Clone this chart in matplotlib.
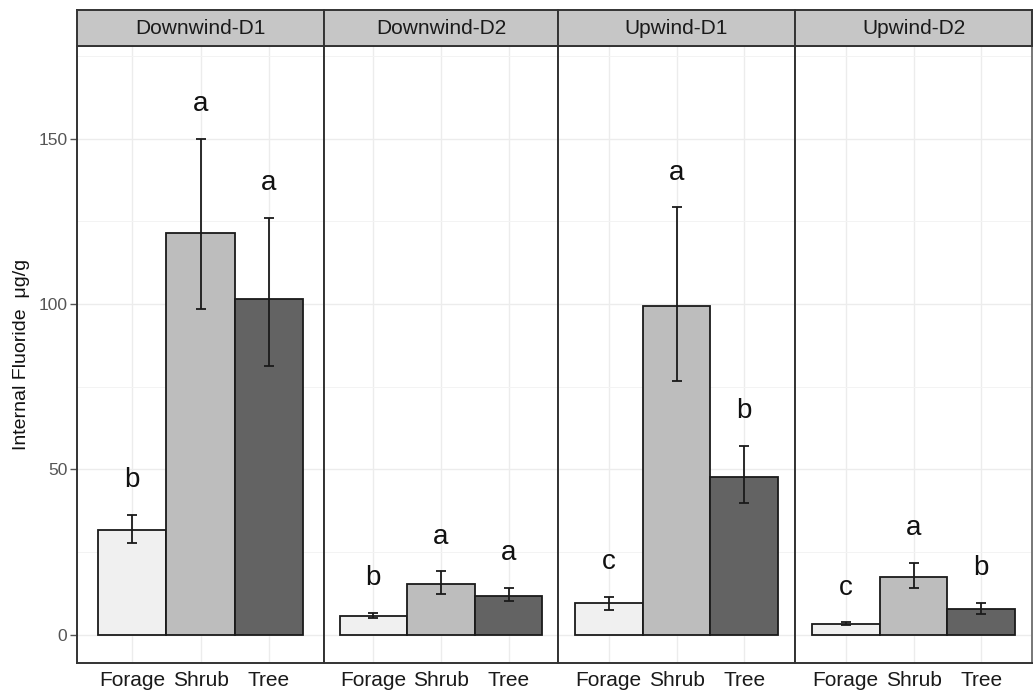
import numpy as np
import matplotlib
matplotlib.use("Agg")
import matplotlib.pyplot as plt
from matplotlib.ticker import MultipleLocator

plt.rcParams['font.family'] = ['Liberation Sans', 'DejaVu Sans']

# data
sites = ['Downwind-D1', 'Downwind-D2', 'Upwind-D1', 'Upwind-D2']
plants = ['Forage', 'Shrub', 'Tree']

means = [[31.8, 121.6, 101.5],
         [5.8, 15.4, 11.9],
         [9.5, 99.5, 47.7],
         [3.4, 17.5, 7.9]]
lower = [[27.9, 98.5, 81.2],
         [5.1, 12.3, 10.2],
         [7.6, 76.6, 39.9],
         [3.0, 14.2, 6.3]]
upper = [[36.2, 150.0, 126.0],
         [6.6, 19.2, 14.1],
         [11.5, 129.2, 57.1],
         [3.8, 21.7, 9.7]]
letters = [['b', 'a', 'a'],
           ['b', 'a', 'a'],
           ['c', 'a', 'b'],
           ['c', 'a', 'b']]

fills = ['#f0f0f0', '#bdbdbd', '#636363']

W, H = 1034, 696
fig = plt.figure(figsize=(W / 100, H / 100), dpi=100)

# panel edges in pixels
edges = [77, 324, 558, 795, 1032]
top, bottom, strip_top = 46, 663, 10
pad_units = [0.31, 0.23, 0.25, 0.25]

x = np.arange(1, 4)
for i, site in enumerate(sites):
    x0, x1 = edges[i], edges[i + 1]
    ax = fig.add_axes([x0 / W, 1 - bottom / H, (x1 - x0) / W, (bottom - top) / H])
    ax.set_ylim(-8.5, 178)
    ax.set_xlim(0.5 - pad_units[i], 3.5 + pad_units[i])
    ax.yaxis.set_major_locator(MultipleLocator(50))
    ax.yaxis.set_minor_locator(MultipleLocator(25))
    ax.grid(which='major', axis='both', color='#ececec', lw=1.0, zorder=0)
    ax.grid(which='minor', axis='y', color='#f3f3f3', lw=0.7, zorder=0)
    ax.set_axisbelow(True)

    ax.bar(x, means[i], width=1.0, color=fills, edgecolor='#1a1a1a', lw=1.3, zorder=2)
    m = np.array(means[i])
    yerr = [m - np.array(lower[i]), np.array(upper[i]) - m]
    ax.errorbar(x, m, yerr=yerr, fmt='none', ecolor='#1a1a1a', elinewidth=1.3,
                capsize=3.6, capthick=1.3, zorder=3)
    for xi, up, lab in zip(x, upper[i], letters[i]):
        ax.text(xi, up + 10.5, lab, ha='center', va='center', fontsize=20, color='#111111')

    ax.set_xticks(x)
    ax.set_xticklabels(plants, fontsize=15, color='#1a1a1a')
    ax.tick_params(axis='x', length=0, pad=6)
    ax.tick_params(axis='y', which='minor', length=0)
    if i == 0:
        ax.set_yticks([0, 50, 100, 150])
        ax.set_yticklabels(['0', '50', '100', '150'], fontsize=12.5, color='#555555')
        ax.tick_params(axis='y', which='major', length=5, color='#555555', width=1, pad=2)
        ax.set_ylabel('Internal Fluoride  \u03bcg/g', fontsize=14, color='#111111', labelpad=6)
    else:
        ax.tick_params(axis='y', which='major', length=0, labelleft=False)
    for s in ax.spines.values():
        s.set_color('#333333')
        s.set_linewidth(1.4)
    if i == 3:
        ax.spines['right'].set_color('#777777')

    # facet strip
    sax = fig.add_axes([x0 / W, 1 - top / H, (x1 - x0) / W, (top - strip_top) / H])
    sax.set_facecolor('#c6c6c6')
    sax.set_xticks([])
    sax.set_yticks([])
    for s in sax.spines.values():
        s.set_color('#333333')
        s.set_linewidth(1.4)
    sax.text(0.5, 0.5, site, ha='center', va='center', fontsize=15, color='#1a1a1a',
             transform=sax.transAxes)

fig.savefig('out.png', dpi=100)
